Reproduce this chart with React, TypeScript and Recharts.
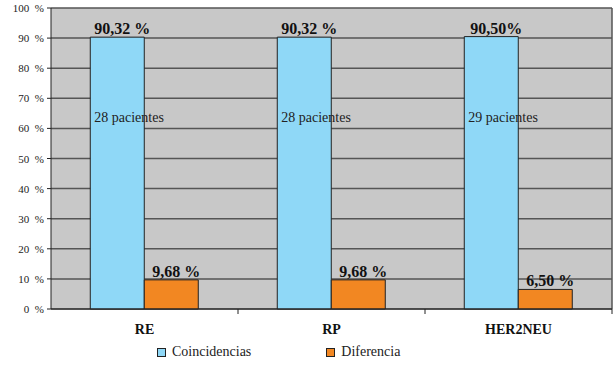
import { BarChart, Bar, XAxis, YAxis, CartesianGrid, Legend, LabelList } from 'recharts';

// Concordancia de receptores hormonales / HER2 entre biopsia y pieza quirúrgica
const CATEGORIES = ['RE', 'RP', 'HER2NEU'];
const COINCIDENCIAS = [90.32, 90.32, 90.5];
const DIFERENCIA = [9.68, 9.68, 6.5];
const TOP_LABELS = ['90,32 %', '90,32 %', '90,50%'];
const DIFF_LABELS = ['9,68 %', '9,68 %', '6,50 %'];
const PACIENTES = ['28 pacientes', '28 pacientes', '29 pacientes'];
const Y_TICKS = [0, 10, 20, 30, 40, 50, 60, 70, 80, 90, 100];

const data = CATEGORIES.map((name, i) => ({
  name,
  coincidencias: COINCIDENCIAS[i],
  diferencia: DIFERENCIA[i],
}));

const SERIF = 'Liberation Serif, DejaVu Serif, serif';
const BLUE = '#8fd8f7';
const ORANGE = '#f28722';
const BAND = 187;

function TopLabel(labels: string[]) {
  return (props: any) => {
    const { x, y, width, index } = props;
    return (
      <text
        x={x + width / 2 + 5}
        y={y - 3}
        textAnchor="middle"
        style={{ fontFamily: SERIF }}
        fontSize={16}
        fontWeight={700}
        fill="#111"
      >
        {labels[index]}
      </text>
    );
  };
}

function PacientesLabel(props: any) {
  const { x, y, height, index } = props;
  return (
    <text x={x + 4} y={y + height - 187} style={{ fontFamily: SERIF }} fontSize={14} fill="#222">
      {PACIENTES[index]}
    </text>
  );
}

function CategoryTick(props: any) {
  const { x, y, payload } = props;
  const axisY = y - 15;
  return (
    <g>
      <line x1={x + BAND / 2} x2={x + BAND / 2} y1={axisY} y2={axisY + 5} stroke="#222" />
      <text x={x} y={y + 10} textAnchor="middle" style={{ fontFamily: SERIF }} fontSize={14} fontWeight={700} fill="#111">
        {payload.value}
      </text>
    </g>
  );
}

function YTick(props: any) {
  const { x, y, payload } = props;
  return (
    <text x={x} y={y + 4} textAnchor="end" style={{ fontFamily: SERIF }} fontSize={11} fill="#222">
      {`${payload.value}\u00a0 %`}
    </text>
  );
}

function LegendContent() {
  const item = (color: string, label: string, ml: number) => (
    <span style={{ display: 'inline-flex', alignItems: 'center', marginLeft: ml }}>
      <span
        style={{
          display: 'inline-block',
          width: 7,
          height: 7,
          background: color,
          border: '1px solid #222',
          marginRight: 6,
        }}
      />
      <span>{label}</span>
    </span>
  );
  return (
    <div style={{ fontFamily: SERIF, fontSize: 14, color: '#222', display: 'flex', paddingLeft: 157, paddingTop: 5 }}>
      {item(BLUE, 'Coincidencias', 0)}
      {item(ORANGE, 'Diferencia', 75)}
    </div>
  );
}

export default function App() {
  return (
    <div style={{ position: 'absolute', left: 0, top: 0, background: '#fff' }}>
      <BarChart
        width={615}
        height={366}
        data={data}
        margin={{ top: 8, right: 3, left: 0, bottom: 0 }}
        barCategoryGap="21%"
        barGap={0}
      >
        <CartesianGrid
          fill="#c8c8c8"
          stroke="#555"
          strokeWidth={1.5}
          vertical={true}
          verticalCoordinatesGenerator={({ offset }: any) => [offset.left + offset.width]}
        />
        <XAxis
          dataKey="name"
          axisLine={{ stroke: '#222' }}
          tickLine={false}
          tickSize={5}
          tickMargin={10}
          height={30}
          interval={0}
          tick={<CategoryTick />}
        />
        <YAxis
          width={51}
          domain={[0, 100]}
          ticks={Y_TICKS}
          interval={0}
          axisLine={{ stroke: '#222' }}
          tickLine={{ stroke: '#222' }}
          tickSize={4}
          tickMargin={3}
          tick={<YTick />}
        />
        <Legend verticalAlign="bottom" height={27} content={<LegendContent />} wrapperStyle={{ left: 0, width: 615 }} />
        <Bar dataKey="coincidencias" name="Coincidencias" fill={BLUE} stroke="#222" strokeWidth={1} isAnimationActive={false}>
          <LabelList dataKey="coincidencias" content={TopLabel(TOP_LABELS)} />
          <LabelList dataKey="coincidencias" content={PacientesLabel} />
        </Bar>
        <Bar dataKey="diferencia" name="Diferencia" fill={ORANGE} stroke="#222" strokeWidth={1} isAnimationActive={false}>
          <LabelList dataKey="diferencia" content={TopLabel(DIFF_LABELS)} />
        </Bar>
      </BarChart>
    </div>
  );
}
